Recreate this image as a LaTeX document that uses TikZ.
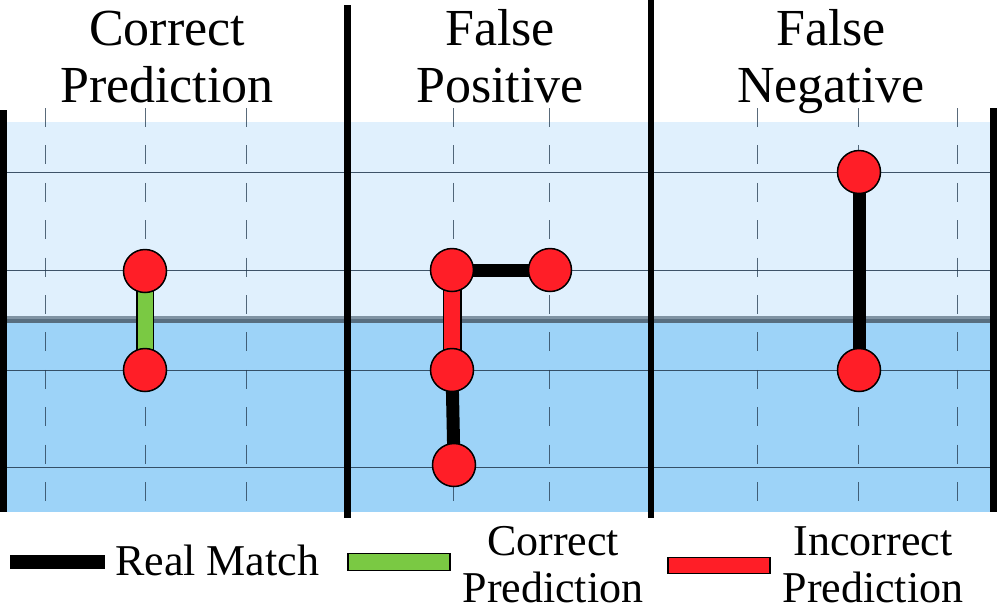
\documentclass[tikz,border=0pt]{standalone}
\usepackage{fontspec}
\setmainfont{Liberation Serif}
\pgfdeclarelayer{front}
\pgfsetlayers{main,front}
\definecolor{bandlight}{HTML}{E0F0FD}
\definecolor{banddark}{HTML}{9DD3F8}
\definecolor{divlight}{HTML}{7F93A3}
\definecolor{divdark}{HTML}{586E80}
\definecolor{gridc}{HTML}{22384E}
\definecolor{dotred}{HTML}{FF1E27}
\definecolor{okgreen}{HTML}{7AC943}
\begin{document}
\begin{tikzpicture}[x=1pt,y=-1pt,
  dot/.style={circle,draw=black,line width=1.5pt,fill=dotred,minimum size=43pt,inner sep=0pt},
  gridline/.style={gridc,line width=1pt,opacity=0.85},
  dashline/.style={gridc,line width=1pt,dash pattern=on 19pt off 18.4pt,opacity=0.75},
  sepline/.style={black,line width=6.5pt},
  match/.style={black,line width=13pt},
  okpred/.style={draw=black,line width=18pt,postaction={draw=okgreen,line width=15pt}},
  badpred/.style={draw=black,line width=19pt,postaction={draw=dotred,line width=16pt}},
  title/.style={anchor=base,inner sep=0pt,font=\fontsize{52}{57}\selectfont},
  legtext/.style={inner sep=0pt,font=\fontsize{44}{47}\selectfont},
  swatch/.style={rectangle,inner sep=0pt,minimum width=102pt}
]
\useasboundingbox (0,0) rectangle (997,614);
% bands
\fill[bandlight] (0,122) rectangle (997,318);
\fill[banddark] (0,318) rectangle (997,512);
\fill[divlight] (0,316) rectangle (997,319);
\fill[divdark] (0,319) rectangle (997,323);
% grid lines
\foreach \yy in {172,270,370,467}
  \draw[gridline] (7,\yy) -- (990,\yy);
\foreach \xx in {45,145,246,453,549,757,858,957}
  \draw[dashline] (\xx,108) -- (\xx,501);
% separators
\fill[black] (0,110) rectangle (7,512);
\fill[black] (990,108) rectangle (997,512);
\draw[sepline] (347.5,5) -- (347.5,518);
\draw[sepline] (651,0) -- (651,518);
% titles
\node[title] (t1) at (167,45) {\begin{tabular}[t]{@{}c@{}}Correct\\Prediction\end{tabular}};
\node[title] (t2) at (500,45) {\begin{tabular}[t]{@{}c@{}}False\\Positive\end{tabular}};
\node[title] (t3) at (831,45) {\begin{tabular}[t]{@{}c@{}}False\\Negative\end{tabular}};
% nodes
\begin{pgfonlayer}{front}
\node[dot] (a1) at (145,271) {};
\node[dot] (a2) at (145,370) {};
\node[dot] (b1) at (452,270) {};
\node[dot] (b2) at (550,270) {};
\node[dot] (b3) at (452,370) {};
\node[dot] (b4) at (454,465) {};
\node[dot] (c1) at (859,172) {};
\node[dot] (c2) at (859,370) {};
\end{pgfonlayer}
% connectors
\draw[okpred] (a1.center) -- (a2.center);
\draw[match] (b1.center) -- (b2.center);
\draw[badpred] (b1.center) -- (b3.center);
\draw[match] (b3.center) -- (b4.center);
\draw[match] (c1.center) -- (c2.center);
% legend
\node[swatch,fill=black,minimum width=95pt,minimum height=14pt] (k1) at (57.5,562) {};
\node[legtext,anchor=base west] (k1t) at (115,575) {Real Match};
\node[swatch,draw=black,line width=1.5pt,fill=okgreen,minimum height=17pt] (k2) at (399,562) {};
\node[legtext,anchor=base] (k2t) at (553,555) {\begin{tabular}[t]{@{}c@{}}Correct\\Prediction\end{tabular}};
\node[swatch,draw=black,line width=1.5pt,fill=dotred,minimum height=16pt] (k3) at (719,565.5) {};
\node[legtext,anchor=base] (k3t) at (873,555) {\begin{tabular}[t]{@{}c@{}}Incorrect\\Prediction\end{tabular}};
\end{tikzpicture}
\end{document}
